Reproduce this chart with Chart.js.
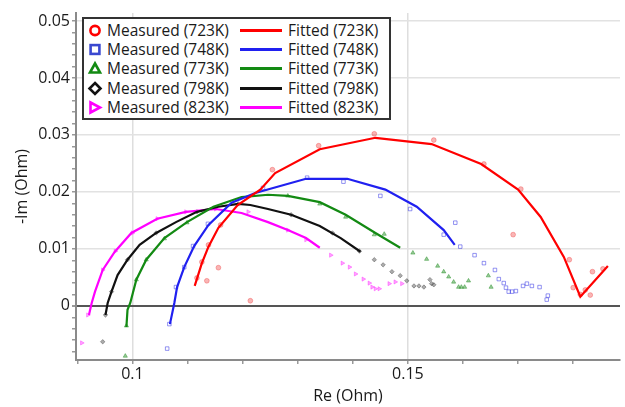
<!DOCTYPE html>
<html>
<head>
<meta charset="utf-8">
<script src="https://cdn.jsdelivr.net/npm/chart.js@4.4.1/dist/chart.umd.min.js"></script>
<style>
  html, body { margin: 0; padding: 0; background: #fff; }
  #wrap { position: relative; width: 625px; height: 407px; }
  #legend {
    position: absolute; left: 82px; top: 17px; width: 305px; height: 99px;
    border: 2px solid #333; background: #fff;
    font-family: "Open Sans", sans-serif; font-size: 15.5px; color: #1a1a1a;
  }
  .item { position: absolute; height: 19px; line-height: 19px; white-space: nowrap; }
  .item svg { position: absolute; top: 0; }
</style>
</head>
<body>
<div id="wrap">
  <canvas id="chart" width="625" height="407"></canvas>
  <div id="legend"></div>
</div>
<script>
// temperatures
const temps = ['723K', '748K', '773K', '798K', '823K'];
const lineColors = ['#ff0000', '#2020f0', '#138a13', '#111111', '#ff00ff'];
const pointColors = ['rgba(240,60,60,0.38)', 'rgba(60,60,230,0.55)', 'rgba(30,140,30,0.45)', 'rgba(70,70,70,0.45)', 'rgba(255,40,255,0.42)'];
const pointStyles = ['circle', 'rect', 'triangle', 'rectRot', 'triangle'];
const pointRotations = [0, 0, 0, 0, 90];

// axis ticks
const xTickVals = [0.09, 0.10, 0.11, 0.12, 0.13, 0.14, 0.15, 0.16, 0.17, 0.18];
const xLabelVals = [0.1, 0.15];
const yTickVals = [];
for (let i = -4; i <= 25; i++) yTickVals.push(i * 0.002);
const xMin = 0.08975, xMax = 0.1885;
const yMin = -0.0095, yMax = 0.0514;

// fitted curves [Re, -Im]
const fitted723 = [[0.1113,0.0035],[0.1126,0.0075],[0.1138,0.0104],[0.1156,0.0137],[0.1191,0.0177],[0.1232,0.0204],[0.1259,0.0233],[0.1340,0.0275],[0.1441,0.0295],[0.1543,0.0284],[0.1633,0.0249],[0.1700,0.0204],[0.1741,0.0156],[0.1783,0.0086],[0.1813,0.0016],[0.1863,0.0070]];
const fitted748 = [[0.1068,-0.0032],[0.1076,0.0005],[0.1081,0.0033],[0.1094,0.0068],[0.1112,0.0105],[0.1138,0.0142],[0.1180,0.0181],[0.1223,0.0198],[0.1315,0.0223],[0.1390,0.0223],[0.1459,0.0204],[0.1516,0.0174],[0.1565,0.0133],[0.1585,0.0107]];
const fitted773 = [[0.0989,-0.0037],[0.0991,-0.0007],[0.0996,0.0005],[0.1007,0.0046],[0.1025,0.0081],[0.1058,0.0119],[0.1099,0.0147],[0.1147,0.0174],[0.1198,0.0191],[0.1246,0.0195],[0.1282,0.0193],[0.1340,0.0182],[0.1387,0.0160],[0.1441,0.0128],[0.1486,0.0102]];
const fitted798 = [[0.0951,-0.0016],[0.0955,0.0005],[0.0962,0.0025],[0.0973,0.0054],[0.0991,0.0081],[0.1013,0.0107],[0.1043,0.0128],[0.1079,0.0147],[0.1117,0.0165],[0.1156,0.0174],[0.1192,0.0179],[0.1214,0.0177],[0.1246,0.0170],[0.1288,0.0160],[0.1340,0.0140],[0.1378,0.0119],[0.1414,0.0095]];
const fitted823 = [[0.0921,-0.0016],[0.0926,0.0005],[0.0932,0.0025],[0.0946,0.0063],[0.0968,0.0095],[0.0998,0.0128],[0.1045,0.0153],[0.1097,0.0165],[0.1151,0.0170],[0.1198,0.0163],[0.1246,0.0147],[0.1282,0.0133],[0.1315,0.0119],[0.1340,0.0102]];

// measured points [Re, -Im]
const measured723 = [[0.1117,0.0049],[0.1126,0.0077],[0.1135,0.0044],[0.1156,0.0067],[0.1138,0.0107],[0.1160,0.0142],[0.1214,0.0009],[0.1254,0.0239],[0.1338,0.0281],[0.1439,0.0302],[0.1547,0.0291],[0.1638,0.0249],[0.1705,0.0205],[0.1691,0.0125],[0.1793,0.0081],[0.1800,0.0032],[0.1813,0.0020],[0.1822,0.0028],[0.1831,0.0019],[0.1835,0.0060],[0.1854,0.0065]];
const measured748 = [[0.1063,-0.0075],[0.1067,-0.0032],[0.1079,0.0033],[0.1094,0.0068],[0.1110,0.0105],[0.1137,0.0144],[0.1237,0.0207],[0.1317,0.0225],[0.1383,0.0218],[0.1450,0.0193],[0.1504,0.0170],[0.1565,0.0125],[0.1586,0.0146],[0.1595,0.0104],[0.1621,0.0089],[0.1638,0.0075],[0.1658,0.0063],[0.1665,0.0047],[0.1674,0.0040],[0.1678,0.0032],[0.1683,0.0025],[0.1689,0.0025],[0.1696,0.0026],[0.1709,0.0035],[0.1716,0.0039],[0.1725,0.0035],[0.1739,0.0033],[0.1754,0.0018],[0.1752,0.0011]];
const measured773 = [[0.0987,-0.0088],[0.0989,-0.0035],[0.1007,0.0046],[0.1025,0.0081],[0.1058,0.0118],[0.1099,0.0146],[0.1282,0.0193],[0.1340,0.0179],[0.1387,0.0156],[0.1439,0.0125],[0.1457,0.0126],[0.1509,0.0093],[0.1534,0.0082],[0.1554,0.0070],[0.1565,0.0060],[0.1574,0.0051],[0.1583,0.0042],[0.1592,0.0033],[0.1597,0.0033],[0.1603,0.0033],[0.1610,0.0044],[0.1646,0.0053],[0.1651,0.0033]];
const measured798 = [[0.0946,-0.0063],[0.0951,-0.0016],[0.0962,0.0025],[0.0991,0.0081],[0.1043,0.0128],[0.1117,0.0165],[0.1192,0.0179],[0.1288,0.0160],[0.1363,0.0128],[0.1412,0.0096],[0.1439,0.0081],[0.1455,0.0072],[0.1471,0.0060],[0.1486,0.0053],[0.1498,0.0044],[0.1511,0.0035],[0.1520,0.0035],[0.1529,0.0033],[0.1540,0.0046],[0.1543,0.0039],[0.1547,0.0037]];
const measured823 = [[0.0908,-0.0065],[0.0919,-0.0016],[0.0946,0.0063],[0.0969,0.0096],[0.1000,0.0128],[0.1045,0.0153],[0.1097,0.0165],[0.1151,0.0170],[0.1210,0.0165],[0.1282,0.0133],[0.1315,0.0116],[0.1360,0.0089],[0.1381,0.0075],[0.1394,0.0068],[0.1405,0.0056],[0.1419,0.0047],[0.1430,0.0040],[0.1435,0.0033],[0.1441,0.0030],[0.1448,0.0030],[0.1466,0.0039],[0.1477,0.0042],[0.1489,0.0039]];

const fittedSets = [fitted723, fitted748, fitted773, fitted798, fitted823];
const measuredSets = [measured723, measured748, measured773, measured798, measured823];

const toXY = arr => arr.map(p => ({ x: p[0], y: p[1] }));
const isMult = (v, step) => Math.abs(v / step - Math.round(v / step)) < 1e-6;
const fmt = v => String(Number(v.toFixed(4)));

const datasets = [];
// fitted lines first so they sit on top
fittedSets.forEach((d, i) => {
  datasets.push({
    label: 'Fitted (' + temps[i] + ')',
    data: toXY(d),
    showLine: true,
    borderColor: lineColors[i],
    borderWidth: 2.2,
    pointRadius: 0,
    fill: false
  });
});
measuredSets.forEach((d, i) => {
  datasets.push({
    label: 'Measured (' + temps[i] + ')',
    data: toXY(d),
    showLine: false,
    pointStyle: pointStyles[i],
    rotation: pointRotations[i],
    pointRadius: i === 1 ? 2.5 : (i === 3 ? 2.2 : 2.4),
    borderColor: pointColors[i],
    backgroundColor: i === 1 ? 'rgba(0,0,0,0)' : pointColors[i],
    borderWidth: 1
  });
});

const axisFont = { family: '"Open Sans", sans-serif', size: 16 };

new Chart(document.getElementById('chart'), {
  type: 'scatter',
  data: { datasets },
  options: {
    responsive: false,
    animation: false,
    layout: { padding: { top: 13, right: 0, left: 0, bottom: 0 } },
    plugins: { legend: { display: false }, tooltip: { enabled: false } },
    scales: {
      x: {
        type: 'linear', min: xMin, max: xMax,
        afterBuildTicks: s => { s.ticks = xTickVals.map(v => ({ value: v })); },
        afterFit: s => { s.height = 47; },
        ticks: {
          autoSkip: false, maxRotation: 0, padding: 1, color: '#1a1a1a', font: axisFont,
          callback: v => xLabelVals.some(l => Math.abs(l - v) < 1e-9) ? fmt(v) : ''
        },
        grid: {
          color: c => xLabelVals.some(l => Math.abs(l - c.tick.value) < 1e-9) ? '#dedede' : 'rgba(0,0,0,0)',
          lineWidth: 1.5,
          tickColor: '#999', tickLength: 4
        },
        border: { color: '#8a8a8a', width: 2 },
        title: { display: true, text: 'Re (Ohm)', color: '#1a1a1a', font: axisFont, padding: { top: 0, bottom: 1 } }
      },
      y: {
        type: 'linear', min: yMin, max: yMax,
        afterBuildTicks: s => { s.ticks = yTickVals.map(v => ({ value: v })); },
        afterFit: s => { s.width = 76; },
        ticks: {
          autoSkip: false, padding: 2, color: '#1a1a1a', font: axisFont,
          callback: v => isMult(v, 0.01) ? fmt(v) : ''
        },
        grid: {
          color: c => Math.abs(c.tick.value) < 1e-9 ? '#555' : (isMult(c.tick.value, 0.01) ? '#e2e2e2' : 'rgba(0,0,0,0)'),
          lineWidth: c => Math.abs(c.tick.value) < 1e-9 ? 2 : 1.5,
          tickColor: '#999', tickLength: 4
        },
        border: { color: '#8a8a8a', width: 2 },
        title: { display: true, text: '-Im (Ohm)', color: '#1a1a1a', font: axisFont, padding: { top: 13, bottom: 0 } }
      }
    }
  }
});

// legend box, two columns: measured markers and fitted lines
const markerSvg = (i) => {
  const c = lineColors[i] === '#2020f0' ? '#3a48d0' : lineColors[i];
  const s = 'fill="none" stroke="' + c + '" stroke-width="2.6"';
  let shape = '';
  if (i === 0) shape = '<circle cx="8" cy="9.5" r="4.6" ' + s + '/>';
  if (i === 1) shape = '<rect x="3.6" y="5.1" width="8.8" height="8.8" ' + s + '/>';
  if (i === 2) shape = '<polygon points="8,4.5 13,13.5 3,13.5" ' + s + '/>';
  if (i === 3) shape = '<polygon points="8,4 13.5,9.5 8,15 2.5,9.5" ' + s + '/>';
  if (i === 4) shape = '<polygon points="3.5,4.5 13,9.5 3.5,14.5" ' + s + '/>';
  return '<svg width="16" height="19" style="left:-8px">' + shape + '</svg>';
};
const legend = document.getElementById('legend');
const rowTops = [1.5, 20.5, 40, 59.5, 78.5];
temps.forEach((t, i) => {
  const m = document.createElement('div');
  m.className = 'item';
  m.style.left = '11px';
  m.style.top = rowTops[i] + 'px';
  m.innerHTML = markerSvg(i) + '<span style="position:absolute;left:12px">Measured (' + t + ')</span>';
  legend.appendChild(m);

  const f = document.createElement('div');
  f.className = 'item';
  f.style.left = '156px';
  f.style.top = rowTops[i] + 'px';
  f.innerHTML = '<svg width="44" height="19"><line x1="0" y1="9.5" x2="42" y2="9.5" stroke="' + lineColors[i] + '" stroke-width="3"/></svg>' +
    '<span style="position:absolute;left:48px">Fitted (' + t + ')</span>';
  legend.appendChild(f);
});
</script>
</body>
</html>
